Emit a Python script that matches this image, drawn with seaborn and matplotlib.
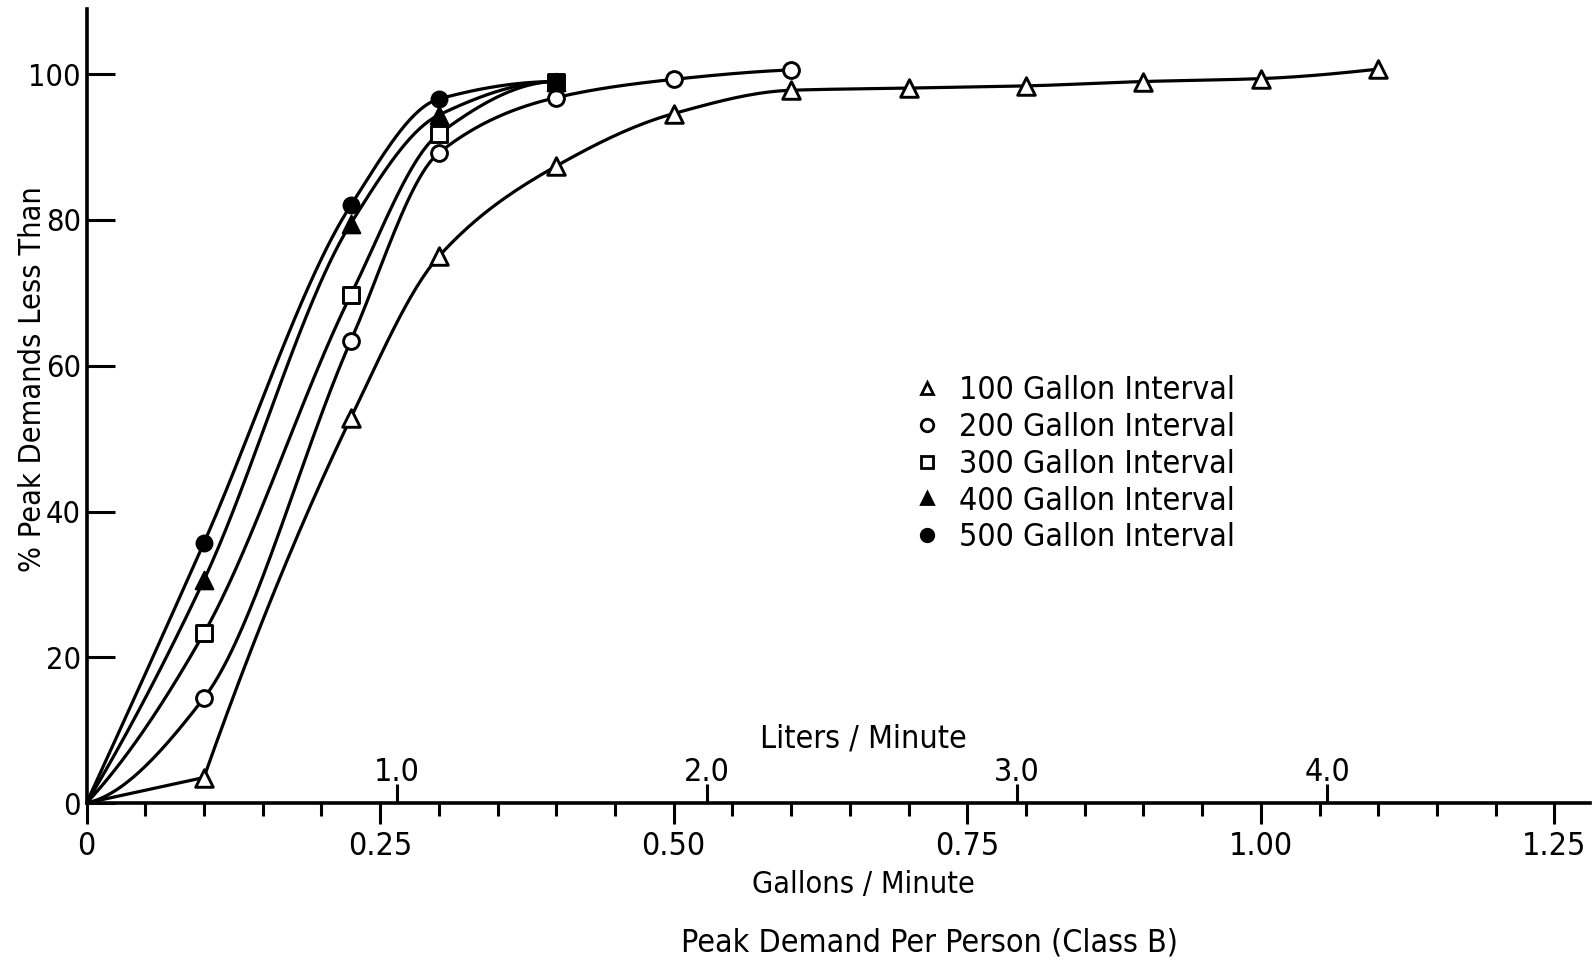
import numpy as np
import pandas as pd
import matplotlib
matplotlib.use("Agg")
import matplotlib.pyplot as plt
from matplotlib import font_manager as fm
from matplotlib.lines import Line2D
import seaborn as sns

# Cumulative distribution of peak demand per person (Class B)
gal_100 = [0.0, 0.1, 0.225, 0.3, 0.4, 0.5, 0.6, 0.7, 0.8, 0.9, 1.0, 1.1]
pct_100 = [0.0, 3.5, 52.8, 75.0, 87.4, 94.6, 97.8, 98.1, 98.4, 99.0, 99.4, 100.7]

gal_200 = [0.0, 0.1, 0.225, 0.3, 0.4, 0.5, 0.6]
pct_200 = [0.0, 14.4, 63.4, 89.2, 96.8, 99.3, 100.6]

gal_300 = [0.0, 0.1, 0.225, 0.3, 0.4]
pct_300 = [0.0, 23.3, 69.7, 91.8, 99.0]

gal_400 = [0.0, 0.1, 0.225, 0.3, 0.4]
pct_400 = [0.0, 30.6, 79.5, 94.4, 99.0]

gal_500 = [0.0, 0.1, 0.225, 0.3, 0.4]
pct_500 = [0.0, 35.7, 82.0, 96.6, 99.0]

interval_labels = ["100 Gallon Interval", "200 Gallon Interval", "300 Gallon Interval",
                   "400 Gallon Interval", "500 Gallon Interval"]
y_ticks = [0, 20, 40, 60, 80, 100]
gal_ticks = [0, 0.25, 0.50, 0.75, 1.00, 1.25]
gal_tick_labels = ["0", "0.25", "0.50", "0.75", "1.00", "1.25"]
liter_ticks = [1.0, 2.0, 3.0, 4.0]
liter_tick_labels = ["1.0", "2.0", "3.0", "4.0"]
LITERS_PER_GALLON = 3.78541

series = [
    (gal_100, pct_100, interval_labels[0]),
    (gal_200, pct_200, interval_labels[1]),
    (gal_300, pct_300, interval_labels[2]),
    (gal_400, pct_400, interval_labels[3]),
    (gal_500, pct_500, interval_labels[4]),
]
frames = [pd.DataFrame({"gpm": g, "pct": p, "interval": lab}) for g, p, lab in series]
df = pd.concat(frames, ignore_index=True)

# marker style per interval: (marker, size, filled)
styles = {
    interval_labels[0]: ("^", 160, False),
    interval_labels[1]: ("o", 130, False),
    interval_labels[2]: ("s", 120, False),
    interval_labels[3]: ("^", 160, True),
    interval_labels[4]: ("o", 130, True),
}


def pick_condensed_font():
    """Return FontProperties for a narrow sans face if one is installed."""
    wanted_names = ["Liberation Sans Narrow", "Noto Sans", "DejaVu Sans",
                    "Roboto Condensed", "Open Sans", "Roboto", "Lato", "Inter"]
    narrow = []
    for f in fm.fontManager.ttflist:
        if f.style != "normal":
            continue
        w = f.weight if isinstance(f.weight, int) else {"normal": 400, "regular": 400,
                                                         "medium": 500}.get(str(f.weight), 0)
        if w not in (400, 500):
            continue
        lowname = (f.name + " " + f.fname).lower()
        is_narrow = ("narrow" in lowname or "condensed" in lowname
                     or str(f.stretch) in ("condensed", "semi-condensed"))
        if is_narrow and "extra" not in lowname and "ultra" not in lowname \
                and "semicondensed" not in lowname.replace("-", "").replace(" ", ""):
            narrow.append(f)
    for name in wanted_names:
        for f in narrow:
            if f.name.startswith(name):
                return fm.FontProperties(fname=f.fname)
    if narrow:
        return fm.FontProperties(fname=narrow[0].fname)
    return fm.FontProperties(family=["Roboto", "DejaVu Sans"])


def pchip_curve(x, y, n=200):
    """Monotone cubic Hermite path through the given points (drawn curve)."""
    x = np.asarray(x, float)
    y = np.asarray(y, float)
    h = np.diff(x)
    d = np.diff(y) / h
    m = np.zeros_like(x)
    for k in range(1, len(x) - 1):
        if d[k - 1] * d[k] <= 0:
            m[k] = 0.0
        else:
            w1 = 2 * h[k] + h[k - 1]
            w2 = h[k] + 2 * h[k - 1]
            m[k] = (w1 + w2) / (w1 / d[k - 1] + w2 / d[k])
    if len(x) > 2:
        m0 = ((2 * h[0] + h[1]) * d[0] - h[0] * d[1]) / (h[0] + h[1])
        if np.sign(m0) != np.sign(d[0]):
            m0 = 0.0
        elif np.sign(d[0]) != np.sign(d[1]) and abs(m0) > abs(3 * d[0]):
            m0 = 3 * d[0]
        m[0] = m0
        mn = ((2 * h[-1] + h[-2]) * d[-1] - h[-1] * d[-2]) / (h[-1] + h[-2])
        if np.sign(mn) != np.sign(d[-1]):
            mn = 0.0
        elif np.sign(d[-1]) != np.sign(d[-2]) and abs(mn) > abs(3 * d[-1]):
            mn = 3 * d[-1]
        m[-1] = mn
    else:
        m[:] = d[0]
    xs = np.linspace(x[0], x[-1], n)
    idx = np.clip(np.searchsorted(x, xs, side="right") - 1, 0, len(x) - 2)
    t = (xs - x[idx]) / h[idx]
    h00 = 2 * t**3 - 3 * t**2 + 1
    h10 = t**3 - 2 * t**2 + t
    h01 = -2 * t**3 + 3 * t**2
    h11 = t**3 - t**2
    ys = h00 * y[idx] + h10 * h[idx] * m[idx] + h01 * y[idx + 1] + h11 * h[idx] * m[idx + 1]
    return xs, ys


sns.set_theme(style="white")
plt.rcParams["font.family"] = ["DejaVu Sans"]
plt.rcParams.update({
    "axes.linewidth": 2.6,
    "text.color": "black",
    "axes.labelcolor": "black",
    "xtick.color": "black",
    "ytick.color": "black",
    "axes.edgecolor": "black",
})

FP = pick_condensed_font()
FS = 23


def fp(size=FS):
    p = FP.copy()
    p.set_size(size)
    return p


fig = plt.figure(figsize=(15.96, 9.61), dpi=100)
ax = fig.add_axes([0.0542, 0.1644, 0.9418, 0.8266])

line_kw = dict(color="black", lw=2.3, solid_capstyle="round", zorder=2)
for g, p, lab in series:
    if lab == interval_labels[0]:
        # straight run to the first reading, then the drawn curve
        ax.plot(g[:2], p[:2], **line_kw)
        xs, ys = pchip_curve(g[1:], p[1:])
    else:
        xs, ys = pchip_curve(g, p)
    ax.plot(xs, ys, **line_kw)

for lab in interval_labels:
    marker, size, filled = styles[lab]
    sub = df[df["interval"] == lab].iloc[1:]
    if filled:
        sns.scatterplot(data=sub, x="gpm", y="pct", ax=ax, marker=marker, s=size,
                        color="black", edgecolor="black", linewidth=1.5, zorder=4, legend=False)
    else:
        sns.scatterplot(data=sub, x="gpm", y="pct", ax=ax, marker=marker, s=size,
                        facecolor="white", edgecolor="black", linewidth=2.1, zorder=4, legend=False)

ax.set_xlim(0, 1.28)
ax.set_ylim(0, 109)
sns.despine(ax=ax, top=True, right=True)

ax.set_xticks(gal_ticks)
ax.set_xticklabels(gal_tick_labels, fontproperties=fp())
ax.set_xticks(np.arange(0, 1.2501, 0.05), minor=True)
ax.tick_params(axis="x", which="major", direction="out", length=15, width=2.2,
               pad=5, bottom=True)
ax.tick_params(axis="x", which="minor", direction="out", length=9, width=2.2, bottom=True)
ax.set_yticks(y_ticks)
ax.set_yticklabels([str(v) for v in y_ticks], fontproperties=fp(22))
ax.tick_params(axis="y", which="major", direction="in", length=20, width=2.2,
               pad=4, left=True)

ax.set_xlabel("Gallons / Minute", fontproperties=fp(22), labelpad=6)
ax.xaxis.label.set_position((0.517, 0))
ax.set_ylabel("% Peak Demands Less Than", fontproperties=fp(22))
ax.yaxis.set_label_coords(-0.026, 0.534)

# litres-per-minute scale riding on the gallons axis
sec = ax.secondary_xaxis(0.0, functions=(lambda g: g * LITERS_PER_GALLON,
                                         lambda l: l / LITERS_PER_GALLON))
sec.set_alignment("top")
sec.set_xticks(liter_ticks)
sec.set_xticklabels(liter_tick_labels, fontproperties=fp())
sec.tick_params(axis="x", which="major", direction="out", length=14, width=2.2, pad=-3)
sec.xaxis.set_minor_locator(matplotlib.ticker.NullLocator())
sec.spines["top"].set_visible(False)
sec.spines["bottom"].set_visible(False)
sec.set_xlabel("Liters / Minute", fontproperties=fp(), labelpad=7)
sec.xaxis.label.set_position((0.517, 0))

fig.text(0.4267, 0.0187, "Peak Demand Per Person (Class B)", fontproperties=fp(),
         ha="left", va="center")

handles = []
for lab in interval_labels:
    marker, size, filled = styles[lab]
    handles.append(Line2D([], [], linestyle="none", marker=marker, markersize=9,
                          markerfacecolor="black" if filled else "white",
                          markeredgecolor="black", markeredgewidth=2.0))
fig.legend(handles, interval_labels, loc="upper left", bbox_to_anchor=(0.5708, 0.6095),
           frameon=False, prop=fp(), handlelength=1.0, handletextpad=0.5,
           labelspacing=0.18, borderpad=0, borderaxespad=0)

fig.savefig("out.png", dpi=100, facecolor="white")
